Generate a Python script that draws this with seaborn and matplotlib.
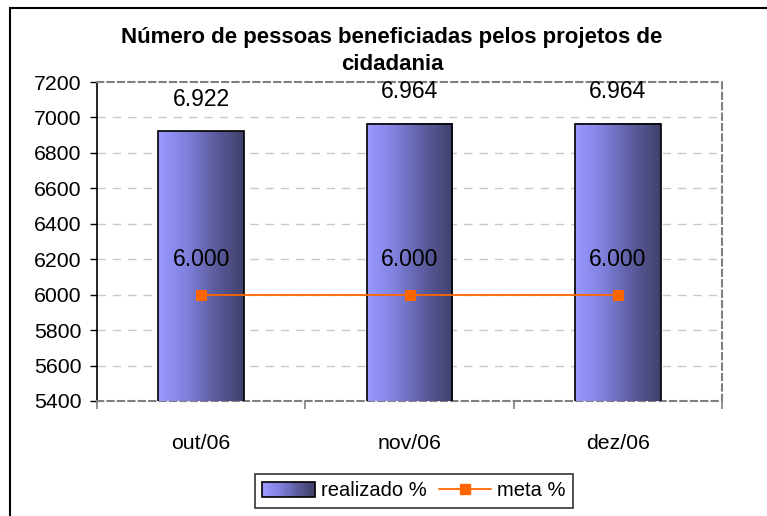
import numpy as np
import pandas as pd
import matplotlib
matplotlib.use("Agg")
import matplotlib.pyplot as plt
import seaborn as sns
from matplotlib.colors import LinearSegmentedColormap
from matplotlib.patches import Rectangle
from matplotlib.lines import Line2D
from matplotlib.legend_handler import HandlerBase

categories = ["out/06", "nov/06", "dez/06"]
realizado = [6922, 6964, 6964]
meta = [6000, 6000, 6000]
y_ticks = [5400, 5600, 5800, 6000, 6200, 6400, 6600, 6800, 7000, 7200]
title = "Número de pessoas beneficiadas pelos projetos de\ncidadania"

sns.set_theme(style="white")
plt.rcParams['font.family'] = ['Liberation Sans', 'DejaVu Sans']
plt.rcParams['text.color'] = 'black'

W, H = 767, 516
fig = plt.figure(figsize=(W / 100, H / 100), dpi=100)
L, R, T, B = 97, 722, 82, 401
ax = fig.add_axes([L / W, 1 - B / H, (R - L) / W, (B - T) / H])

YMIN, YMAX = 5400, 7200

df = pd.DataFrame({"mes": categories, "realizado": realizado, "meta": meta})
sns.barplot(data=df, x="mes", y="realizado", ax=ax, width=0.41,
            color="#9999FF", edgecolor="black", linewidth=1.2, zorder=3)

cmap = LinearSegmentedColormap.from_list("g", ["#9A9AFF", "#8080DD", "#5C5C9E", "#40406A"])
grad = np.linspace(0, 1, 256).reshape(1, -1)
for p in ax.patches:
    x0, y0 = p.get_x(), p.get_y()
    w, h = p.get_width(), p.get_height()
    ax.imshow(grad, extent=[x0, x0 + w, max(y0, YMIN), y0 + h], aspect="auto",
              cmap=cmap, zorder=3.1, origin="lower")
    p.set_facecolor("none")
    p.set_zorder(3.2)

sns.lineplot(x=np.arange(len(categories)), y=meta, ax=ax, color="#FF6600",
             linewidth=1.3, marker="s", markersize=7.5, markeredgecolor="#FF6600",
             zorder=4)

ax.set_xlim(-0.5, 2.5)
ax.set_ylim(YMIN, YMAX)
ax.set_yticks(y_ticks)
ax.set_yticklabels([str(v) for v in y_ticks], fontsize=15.3, color="black")
ax.set_xticks(np.arange(len(categories)))
ax.set_xticklabels(categories, fontsize=15.3, color="black")
ax.set_xlabel("")
ax.set_ylabel("")
ax.tick_params(axis="x", length=0, pad=24)
ax.tick_params(axis="y", length=5, width=1, direction="out", left=True, color="black", pad=6)

ax.set_xticks([-0.5, 0.5, 1.5, 2.5], minor=True)
ax.tick_params(axis="x", which="minor", length=6, width=1.2, color="#808080", bottom=True, direction="out")

for v in y_ticks[1:-1]:
    ax.axhline(v, color="#C8C8C8", linestyle=(0, (6, 5)), linewidth=1, zorder=1)

for s in ["top", "right", "bottom"]:
    ax.spines[s].set_visible(True)
    ax.spines[s].set_color("#808080")
    ax.spines[s].set_linestyle((0, (3, 2)))
    ax.spines[s].set_linewidth(1.5)
ax.spines["left"].set_color("black")
ax.spines["left"].set_linewidth(1.2)

def fmt(v):
    return f"{v:,}".replace(",", ".")

for i, v in enumerate(realizado):
    ax.annotate(fmt(v), (i, v), xytext=(0, 23), textcoords="offset points",
                ha="center", va="center", fontsize=16.5, color="black", zorder=5)
for i, v in enumerate(meta):
    ax.annotate(fmt(v), (i, v), xytext=(0, 25), textcoords="offset points",
                ha="center", va="center", fontsize=16.5, color="black", zorder=5)

fig.text(392 / W, 1 - 51 / H, title, ha="center", va="center", fontsize=16,
         fontweight="bold", linespacing=1.35, color="black")

fig.patches.append(Rectangle((10 / W, -0.1), 1.2, 1 - 8 / H + 0.1, transform=fig.transFigure,
                             fill=False, edgecolor="black", linewidth=1.5))


class GradientHandler(HandlerBase):
    def create_artists(self, legend, orig_handle, xdescent, ydescent,
                       width, height, fontsize, trans):
        n = 24
        arts = []
        for k in range(n):
            r = Rectangle((-xdescent + width * k / n, -ydescent), width / n + 0.3, height,
                          facecolor=cmap(k / (n - 1)), edgecolor="none", transform=trans)
            arts.append(r)
        arts.append(Rectangle((-xdescent, -ydescent), width, height, facecolor="none",
                              edgecolor="black", linewidth=1.2, transform=trans))
        return arts


bar_handle = Rectangle((0, 0), 1, 1, facecolor="#7070C0", edgecolor="black")
line_handle = Line2D([], [], color="#FF6600", marker="s", markersize=7.5, linewidth=1.3)
leg = fig.legend([bar_handle, line_handle], ["realizado %", "meta %"],
                 loc="center", bbox_to_anchor=(414 / W, 1 - 491 / H), ncol=2,
                 fontsize=14.5, frameon=True, fancybox=False, edgecolor="black",
                 handlelength=2.6, handletextpad=0.3, columnspacing=0.6,
                 borderpad=0.35, handler_map={Rectangle: GradientHandler()})
leg.get_frame().set_linewidth(1.2)
for t in leg.get_texts():
    t.set_color("black")

fig.savefig("out.png", dpi=100, facecolor="white")
